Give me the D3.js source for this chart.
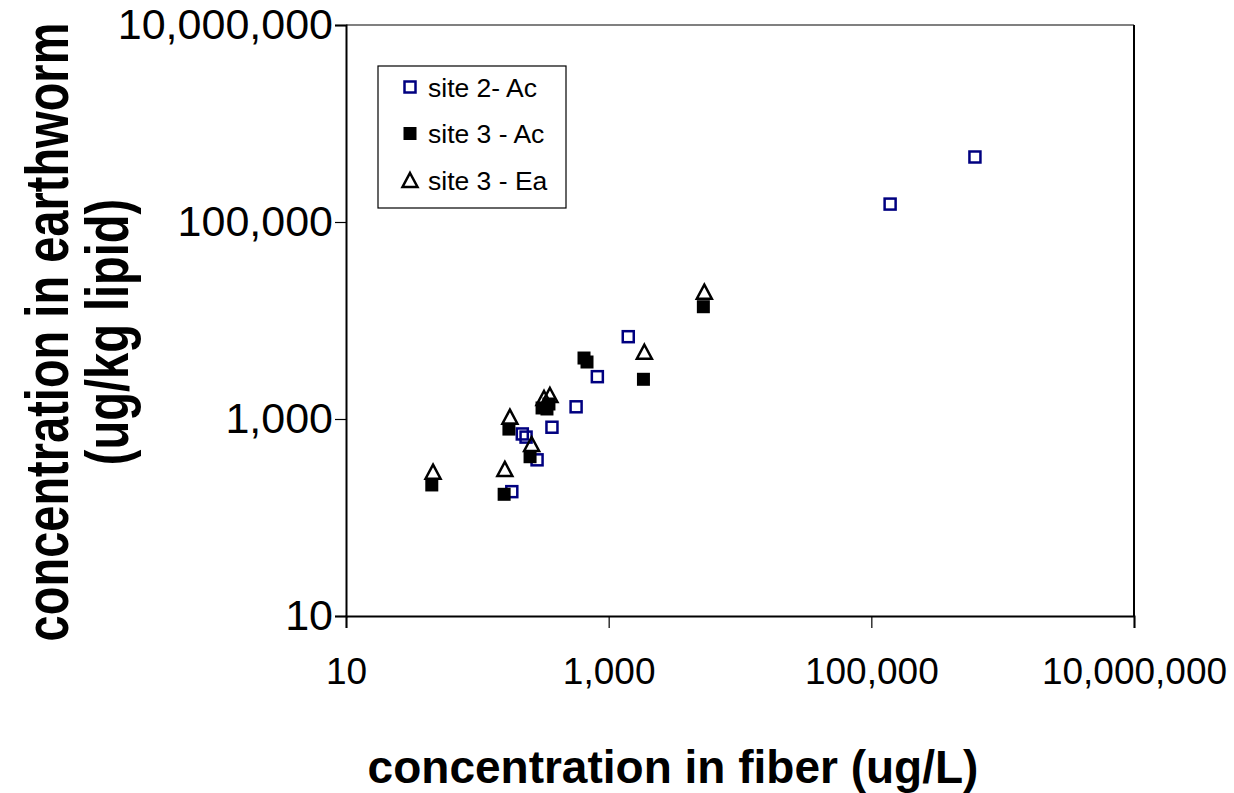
<!DOCTYPE html>
<html>
<head>
<meta charset="utf-8">
<script src="https://cdn.jsdelivr.net/npm/d3@7"></script>
<style>
  body { margin: 0; background: #fff; }
  text { font-family: "Liberation Sans", Arial, sans-serif; }
</style>
</head>
<body>
<div id="plot"></div>
<script>
var margin = {top: 25, right: 100, bottom: 177, left: 346}
  , width = 1234 - margin.left - margin.right
  , height = 793 - margin.top - margin.bottom;

// values, [fiber ug/L, earthworm ug/kg lipid]
var site2Ac = [
  [615000, 457000], [139000, 152000], [1410, 6850], [820, 2690], [565, 1330],
  [370, 825], [220, 705], [235, 655], [285, 385], [183, 183]
]
var site3Ac = [
  [5260, 13800], [649, 4160], [684, 3790], [1840, 2530], [311, 1294],
  [339, 1264], [351, 1420], [174, 790], [252, 414], [45, 214], [160, 172]
]
var site3Ea = [
  [5350, 19600], [1870, 4820], [322, 1633], [357, 1753], [177, 1055],
  [259, 557], [46, 292], [162, 311]
]
var legendLabels = ["site 2- Ac", "site 3 - Ac", "site 3 - Ea"]
var tickVals = [10, 1000, 100000, 10000000]

var xScale = d3.scaleLog().domain([10, 1e7]).range([0, width])
var yScale = d3.scaleLog().domain([10, 1e7]).range([height, 0])

var svg = d3.select("#plot")
  .append("svg")
    .attr("width", 1234)
    .attr("height", 793)
  .append("g")
    .attr("transform", "translate(" + margin.left + "," + margin.top + ")")

// plot area border (top grey, right black)
svg.append("line").attr("x1", 0).attr("x2", width).attr("y1", 0).attr("y2", 0)
  .attr("stroke", "#808080").attr("stroke-width", 2)
svg.append("line").attr("x1", width).attr("x2", width).attr("y1", 0).attr("y2", height)
  .attr("stroke", "#000").attr("stroke-width", 2)

var fmt = d3.format(",")

var xAxis = svg.append("g")
  .attr("transform", "translate(0," + height + ")")
  .call(d3.axisBottom(xScale).tickValues(tickVals).tickFormat(fmt).tickSize(12).tickPadding(30))
xAxis.select(".domain").attr("stroke-width", 2)
xAxis.selectAll(".tick line").attr("stroke-width", 1.2)
xAxis.selectAll("text").attr("font-size", 37).attr("fill", "#000")
  .style("font-family", '"Liberation Sans", Arial, sans-serif')

var yAxis = svg.append("g")
  .call(d3.axisLeft(yScale).tickValues(tickVals).tickFormat(fmt).tickSize(11).tickPadding(2))
yAxis.select(".domain").attr("stroke-width", 2)
yAxis.selectAll(".tick line").attr("stroke-width", 1.2)
yAxis.selectAll("text").attr("font-size", 43).attr("fill", "#000")
  .style("font-family", '"Liberation Sans", Arial, sans-serif')

// markers
var sq = 11
var triW = 15, triH = 14
var triPath = "M0," + (-triH/2) + "L" + (triW/2) + "," + (triH/2) + "L" + (-triW/2) + "," + (triH/2) + "Z"

svg.selectAll(".s2")
  .data(site2Ac)
  .enter().append("rect")
  .attr("class", "s2")
  .attr("x", d => xScale(d[0]) - sq/2)
  .attr("y", d => yScale(d[1]) - sq/2)
  .attr("width", sq).attr("height", sq)
  .attr("fill", "none").attr("stroke", "#000080").attr("stroke-width", 2.5)

svg.selectAll(".s3")
  .data(site3Ac)
  .enter().append("rect")
  .attr("class", "s3")
  .attr("x", d => xScale(d[0]) - 6.5)
  .attr("y", d => yScale(d[1]) - 6.5)
  .attr("width", 13).attr("height", 13)
  .attr("fill", "#000")

svg.selectAll(".s3e")
  .data(site3Ea)
  .enter().append("path")
  .attr("class", "s3e")
  .attr("transform", d => "translate(" + xScale(d[0]) + "," + yScale(d[1]) + ")")
  .attr("d", triPath)
  .attr("fill", "none").attr("stroke", "#000").attr("stroke-width", 2.5)

// legend
var lg = svg.append("g").attr("transform", "translate(32,41)")
lg.append("rect").attr("width", 188).attr("height", 142)
  .attr("fill", "#fff").attr("stroke", "#000").attr("stroke-width", 1.2)

var rows = lg.selectAll(".row")
  .data(legendLabels)
  .enter().append("g")
  .attr("transform", (d, i) => "translate(32," + (21 + i * 46.5) + ")")

rows.append("text")
  .attr("x", 18).attr("dy", "0.36em")
  .attr("font-size", 26.5)
  .text(d => d)

rows.filter((d, i) => i == 0).append("rect")
  .attr("x", -sq/2).attr("y", -sq/2).attr("width", sq).attr("height", sq)
  .attr("fill", "none").attr("stroke", "#000080").attr("stroke-width", 2.5)
rows.filter((d, i) => i == 1).append("rect")
  .attr("x", -6.5).attr("y", -6.5).attr("width", 13).attr("height", 13)
  .attr("fill", "#000")
rows.filter((d, i) => i == 2).append("path")
  .attr("d", triPath)
  .attr("fill", "none").attr("stroke", "#000").attr("stroke-width", 2.5)

// axis titles
svg.append("text")
  .attr("x", 673 - margin.left)
  .attr("y", 758)
  .attr("text-anchor", "middle")
  .attr("font-size", 46).attr("font-weight", "bold")
  .text("concentration in fiber (ug/L)")

var yt = svg.append("text")
  .attr("transform", "translate(" + (68 - margin.left) + "," + (332 - margin.top) + ") rotate(-90) scale(1,1.3)")
  .attr("text-anchor", "middle")
  .attr("font-size", 47).attr("font-weight", "bold")
yt.append("tspan").attr("x", 0).attr("y", 0).text("concentration in earthworm")
yt.append("tspan").attr("x", 0).attr("y", 46).text("(ug/kg lipid)")
</script>
</body>
</html>
